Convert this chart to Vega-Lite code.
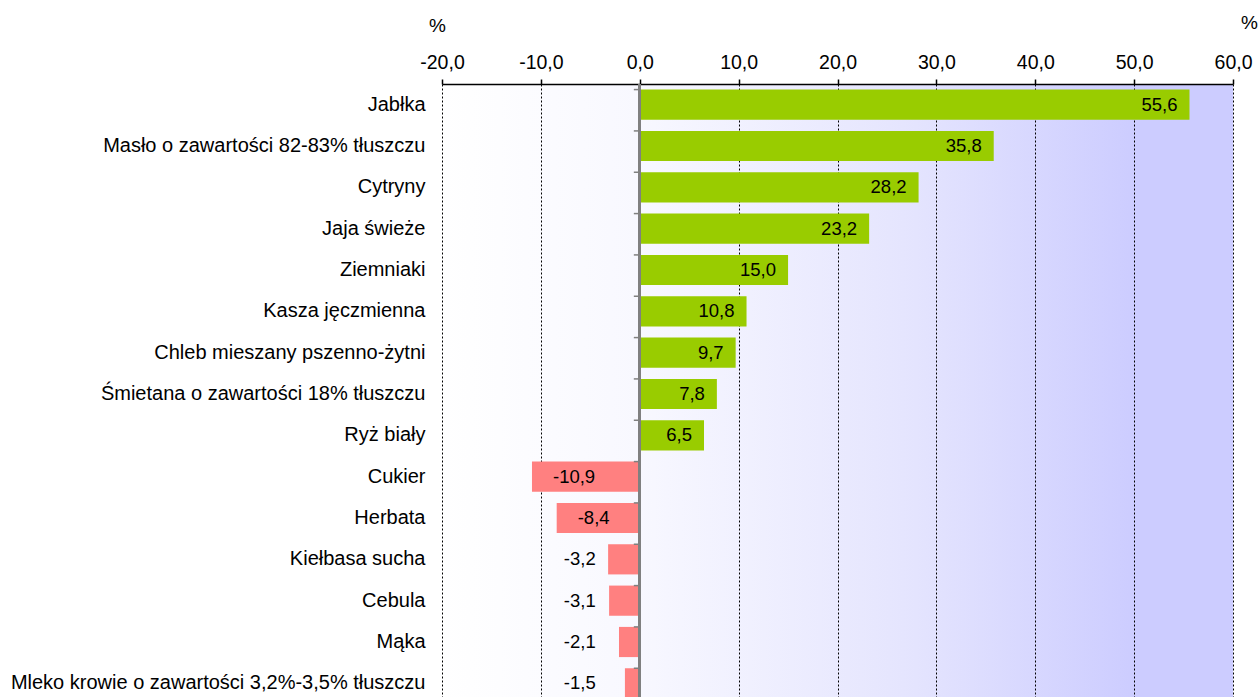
{
  "$schema": "https://vega.github.io/schema/vega-lite/v6.json",
  "width": 791,
  "height": 620,
  "autosize": {"type": "none"},
  "padding": {"left": 442, "top": 84, "right": 26, "bottom": 0},
  "background": "white",
  "config": {
    "locale": {"number": {"decimal": ",", "thousands": " ", "grouping": [3], "currency": ["", " zł"], "minus": "-"}},
    "font": "Liberation Sans",
    "view": {
      "stroke": null,
      "fill": {"gradient": "linear", "x1": 0, "y1": 0, "x2": 1, "y2": 0,
        "stops": [{"offset": 0, "color": "#ffffff"}, {"offset": 0.25, "color": "#f8f8ff"}, {"offset": 0.6, "color": "#e4e4fe"}, {"offset": 0.88, "color": "#ccccff"}, {"offset": 1, "color": "#ccccff"}]}
    },
    "text": {"font": "Liberation Sans", "fontSize": 18.5, "color": "#000000"}
  },
  "data": {"values": [
    {"item": "Jabłka", "value": 55.6},
    {"item": "Masło o zawartości 82-83% tłuszczu", "value": 35.8},
    {"item": "Cytryny", "value": 28.2},
    {"item": "Jaja świeże", "value": 23.2},
    {"item": "Ziemniaki", "value": 15.0},
    {"item": "Kasza jęczmienna", "value": 10.8},
    {"item": "Chleb mieszany pszenno-żytni", "value": 9.7},
    {"item": "Śmietana o zawartości 18% tłuszczu", "value": 7.8},
    {"item": "Ryż biały", "value": 6.5},
    {"item": "Cukier", "value": -10.9},
    {"item": "Herbata", "value": -8.4},
    {"item": "Kiełbasa sucha", "value": -3.2},
    {"item": "Cebula", "value": -3.1},
    {"item": "Mąka", "value": -2.1},
    {"item": "Mleko krowie o zawartości 3,2%-3,5% tłuszczu", "value": -1.5}
  ]},
  "encoding": {
    "y": {"field": "item", "type": "nominal", "sort": null,
      "scale": {"paddingInner": 0.27, "paddingOuter": 0.135},
      "axis": {"title": "%", "titleAngle": 0, "titleX": -5, "titleY": -59, "titleAlign": "center", "titleBaseline": "middle",
        "titleFont": "Liberation Sans", "titleFontSize": 19, "titleFontWeight": "normal", "titleColor": "#000",
        "domain": false, "ticks": false, "grid": false, "labelPadding": 17,
        "labelFont": "Liberation Sans", "labelFontSize": 20, "labelColor": "#000", "labelLimit": 600}}
  },
  "layer": [
    {
      "mark": {"type": "bar"},
      "encoding": {
        "x": {"field": "value", "type": "quantitative",
          "scale": {"domain": [-20, 60], "nice": false, "zero": false},
          "axis": {"orient": "top", "values": [-20, -10, 0, 10, 20, 30, 40, 50, 60], "format": ".1f",
            "domainColor": "#000", "domainWidth": 1.5, "tickColor": "#000", "tickSize": 5, "tickWidth": 1.5,
            "grid": true, "gridColor": "#000", "gridDash": [2, 2], "gridWidth": 1, "gridOpacity": 1,
            "labelFont": "Liberation Sans", "labelFontSize": 19.5, "labelColor": "#000", "labelPadding": 7,
            "labelFlush": false, "labelOverlap": false,
            "title": "%", "titleX": 807, "titleY": -62, "titleAlign": "center", "titleBaseline": "middle",
            "titleFont": "Liberation Sans", "titleFontSize": 19, "titleFontWeight": "normal", "titleColor": "#000"}},
        "color": {"condition": {"test": "datum.value > 0", "value": "#99cc00"}, "value": "#ff8080"}
      }
    },
    {
      "mark": {"type": "rule", "color": "#808080", "strokeWidth": 2},
      "encoding": {"x": {"datum": 0, "type": "quantitative"}, "y": null}
    },
    {
      "mark": {"type": "rule", "color": "#808080", "strokeWidth": 1.5},
      "encoding": {
        "x": {"datum": -0.6, "type": "quantitative"},
        "x2": {"datum": 0},
        "y": {"field": "item", "type": "nominal", "sort": null, "bandPosition": 0}
      }
    },
    {
      "transform": [{"filter": "datum.value > 0"}],
      "mark": {"type": "text", "align": "right", "baseline": "middle", "dx": -12},
      "encoding": {
        "x": {"field": "value", "type": "quantitative"},
        "text": {"field": "value", "type": "quantitative", "format": ".1f"}
      }
    },
    {
      "transform": [{"filter": "datum.value < -5"}],
      "mark": {"type": "text", "align": "left", "baseline": "middle", "dx": 21},
      "encoding": {
        "x": {"field": "value", "type": "quantitative"},
        "text": {"field": "value", "type": "quantitative", "format": ".1f"}
      }
    },
    {
      "transform": [{"filter": "datum.value < 0 && datum.value >= -5"}],
      "mark": {"type": "text", "align": "right", "baseline": "middle", "dx": -44},
      "encoding": {
        "x": {"datum": 0, "type": "quantitative"},
        "text": {"field": "value", "type": "quantitative", "format": ".1f"}
      }
    }
  ]
}
